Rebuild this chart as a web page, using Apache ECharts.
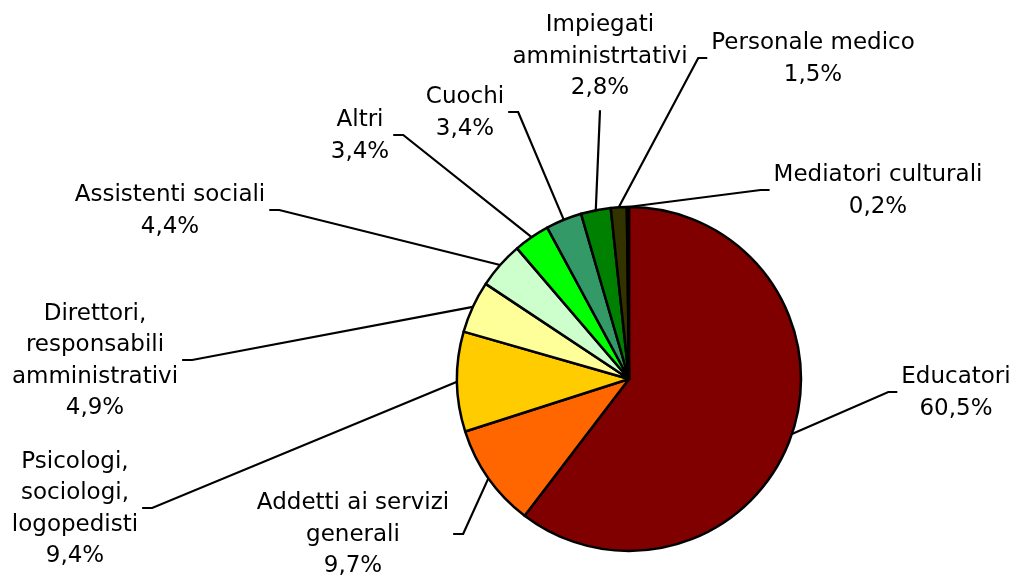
<!DOCTYPE html>
<html>
<head>
<meta charset="utf-8">
<script src="https://cdn.jsdelivr.net/npm/echarts@6/dist/echarts.min.js"></script>
<style>
html, body { margin: 0; padding: 0; background: #fff; }
#chart { width: 1015px; height: 576px; }
</style>
</head>
<body>
<div id="chart"></div>
<script>
// categories (in clockwise order from 12 o'clock)
const categories = [
  'Educatori',
  'Addetti ai servizi\ngenerali',
  'Psicologi,\nsociologi,\nlogopedisti',
  'Direttori,\nresponsabili\namministrativi',
  'Assistenti sociali',
  'Altri',
  'Cuochi',
  'Impiegati\namministrtativi',
  'Personale medico',
  'Mediatori culturali'
]
// shares in percent
const shares = [60.5, 9.7, 9.4, 4.9, 4.4, 3.4, 3.4, 2.8, 1.5, 0.2]
const colors = ['#800000', '#ff6600', '#ffcc00', '#ffff99', '#ccffcc', '#00ff00', '#339966', '#008000', '#333300', '#222222']

// where each label sits (centre of text block) and which side the leader line hooks on
const labelPos = [
  { x: 956, y: 393, side: 'left' },
  { x: 353, y: 535, side: 'right' },
  { x: 75, y: 509, side: 'right' },
  { x: 95, y: 361, side: 'right' },
  { x: 170, y: 211, side: 'right' },
  { x: 360, y: 136, side: 'right' },
  { x: 465, y: 113, side: 'right' },
  { x: 600, y: 57, side: 'bottom' },
  { x: 813, y: 59, side: 'left' },
  { x: 878, y: 191, side: 'left' }
]

const chart = echarts.init(document.getElementById('chart'))

const options = {
  animation: false,
  series: [
    {
      type: 'pie',
      center: [629, 379],
      radius: 172,
      startAngle: 90,
      clockwise: true,
      avoidLabelOverlap: false,
      emphasis: { disabled: true },
      itemStyle: {
        borderColor: '#000',
        borderWidth: 2.5
      },
      label: {
        show: true,
        position: 'outside',
        fontFamily: 'DejaVu Sans',
        fontSize: 23,
        lineHeight: 31.5,
        color: '#000',
        formatter: p => p.name + '\n' + p.value.toFixed(1).replace('.', ',') + '%'
      },
      labelLine: {
        show: true,
        lineStyle: { color: '#000', width: 2.2 }
      },
      labelLayout: params => {
        const pos = labelPos[params.dataIndex]
        const w = params.labelRect.width
        const h = params.labelRect.height
        const anchor = params.labelLinePoints ? params.labelLinePoints[0] : [pos.x, pos.y]
        let end, elbow
        if (pos.side === 'left') {
          end = [pos.x - w / 2 - 4, pos.y - 1]
          elbow = [end[0] - 9, end[1]]
        } else if (pos.side === 'right') {
          end = [pos.x + w / 2 + 4, pos.y - 1]
          elbow = [end[0] + 10, end[1]]
        } else {
          end = [pos.x, pos.y + h / 2 + 6]
          elbow = end
        }
        return {
          x: pos.x,
          y: pos.y,
          align: 'center',
          verticalAlign: 'middle',
          labelLinePoints: [anchor, elbow, end]
        }
      },
      data: categories.map((name, i) => ({
        name: name,
        value: shares[i],
        itemStyle: { color: colors[i] }
      }))
    }
  ]
}

chart.setOption(options)
</script>
</body>
</html>
